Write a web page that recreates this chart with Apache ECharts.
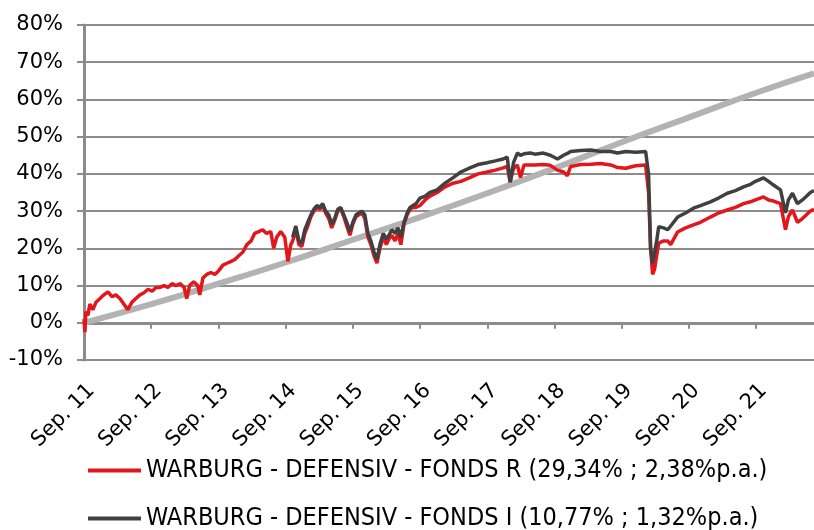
<!DOCTYPE html>
<html>
<head>
<meta charset="utf-8">
<script src="https://cdn.jsdelivr.net/npm/echarts@6/dist/echarts.min.js"></script>
<style>html,body{margin:0;padding:0;background:#fff}#c{width:814px;height:530px}</style>
</head>
<body>
<div id="c"></div>
<script>
const tickLabels = ['Sep. 11','Sep. 12','Sep. 13','Sep. 14','Sep. 15','Sep. 16','Sep. 17','Sep. 18','Sep. 19','Sep. 20','Sep. 21'];
const yTicks = [-10,0,10,20,30,40,50,60,70,80];
const seriesNames = ['WARBURG - DEFENSIV - FONDS R (29,34% ; 2,38%p.a.)','WARBURG - DEFENSIV - FONDS I (10,77% ; 1,32%p.a.)'];
const startDate = '2011-09-01';
const endDate = '2022-07-12';

const dates = ['2011-09-01','2011-09-06','2011-09-11','2011-09-22','2011-10-03','2011-10-19','2011-11-05','2011-11-27','2011-12-18','2012-01-09',
'2012-01-31','2012-02-21','2012-03-14','2012-04-05','2012-04-26','2012-05-18','2012-06-09','2012-07-01','2012-07-21','2012-08-14',
'2012-09-05','2012-09-26','2012-10-17','2012-11-09','2012-11-30','2012-12-22','2013-01-13','2013-02-05','2013-02-26','2013-03-12',
'2013-03-28','2013-04-19','2013-05-11','2013-05-22','2013-06-08','2013-06-29','2013-07-21','2013-08-12','2013-09-02','2013-09-25',
'2013-10-17','2013-11-08','2013-11-29','2013-12-20','2014-01-12','2014-02-02','2014-02-25','2014-03-16','2014-04-08','2014-04-29',
'2014-05-20','2014-06-12','2014-06-28','2014-07-14','2014-08-05','2014-08-27','2014-09-13','2014-09-29','2014-10-09','2014-10-26',
'2014-11-12','2014-11-28','2014-12-14','2014-12-30','2015-01-16','2015-02-01','2015-02-18','2015-03-06','2015-03-21','2015-04-06',
'2015-04-23','2015-05-09','2015-05-25','2015-06-11','2015-06-27','2015-07-14','2015-07-30','2015-08-16','2015-09-01','2015-09-18',
'2015-10-04','2015-10-20','2015-11-05','2015-11-22','2015-12-08','2015-12-25','2016-01-10','2016-01-26','2016-02-13','2016-03-01',
'2016-03-15','2016-03-31','2016-04-17','2016-05-03','2016-05-19','2016-06-05','2016-06-22','2016-07-08','2016-07-24','2016-08-09',
'2016-08-31','2016-09-28','2016-10-24','2016-12-02','2017-01-14','2017-02-27','2017-04-10','2017-05-29','2017-07-12','2017-08-30',
'2017-10-14','2017-11-26','2017-12-18','2018-01-03','2018-01-21','2018-02-11','2018-02-28','2018-03-19','2018-04-22','2018-05-18',
'2018-07-02','2018-08-09','2018-09-17','2018-10-20','2018-11-10','2018-11-27','2019-01-21','2019-03-16','2019-05-09','2019-07-03',
'2019-08-10','2019-09-23','2019-11-16','2020-01-09','2020-01-25','2020-02-05','2020-02-16','2020-02-27','2020-03-09','2020-03-20',
'2020-04-16','2020-05-08','2020-05-24','2020-07-01','2020-08-13','2020-09-25','2020-11-02','2020-12-26','2021-02-08','2021-03-28',
'2021-05-11','2021-06-24','2021-08-01','2021-08-28','2021-10-11','2021-11-07','2021-12-04','2022-01-11','2022-02-07','2022-02-23',
'2022-03-17','2022-04-13','2022-05-10','2022-06-01','2022-06-22','2022-07-12'];

const fondsR = [1.0,-2.5,3,2,5,3.5,5.5,6.5,7.5,8.3,
7,7.5,6.5,5,3.5,5.5,6.5,7.5,8,9,
8.5,9.5,9.5,10,9.5,10.5,10,10.5,9.5,6.5,
10,11,10,7.5,12,13,13.5,13,14,15.5,
16,16.5,17,18,19,21,22,24,24.5,25,
24,24.5,20,23,24.5,23,16.5,21,22,25,
21,20.5,24,26,28.5,30,31,30.5,31.5,29.5,
28,25.5,27.5,30,30.5,28.5,26,23.5,26.5,28.5,
29,29.5,28,23,21,18,16,20,23,21,
22.5,23.5,22,24,21,26.5,29,30.5,31,31,
31.5,33,34,35,36.5,37.5,38,39,40,40.5,
41,41.6,42,37.8,41.5,42.4,39,42.4,42.4,42.4,
42.5,42.3,41,40.5,39.5,42,42.5,42.6,42.8,42.4,
41.7,41.5,42.2,42.4,35,20,13,14.5,18,21.4,
22,22,21,24.4,25.5,26.3,27,28.4,29.5,30.3,
31,32,32.5,33,33.8,33,32.7,32,25,28.5,
30.3,27,28,29,30,30.5];

const fondsI = [null,null,null,null,null,null,null,null,null,null,
null,null,null,null,null,null,null,null,null,null,
null,null,null,null,null,null,null,null,null,null,
null,null,null,null,null,null,null,null,null,null,
null,null,null,null,null,null,null,null,null,null,
null,null,null,null,null,null,null,null,23,26,
22,21.5,25,27,29,30.5,31.5,31,32,30,
29,26.5,28,30.5,31,29,27,24.5,27,29,
29.5,30,29,24,22,19,17,21,24,22.5,
23.5,25,24,25.5,23,27,29.5,31,31.5,32,
33.5,34,35,35.7,37.5,39,40.5,41.6,42.5,43,
43.5,44,44.5,37.8,43,45.6,45,45.4,45.6,45.3,
45.6,45,44,45,45.5,46,46.3,46.4,46,46,
45.6,46,45.8,46,40,20,16,19,22,25.8,
25.5,25,26,28.4,29.5,30.8,31.5,32.5,33.5,34.8,
35.5,36.5,37.2,38,38.9,38,37,35.7,29.5,33,
34.8,32,33,34,35,35.5];

const benchDates = ['2011-09-01','2012-09-01','2013-09-01','2014-09-01','2015-09-01','2016-09-01','2017-09-01','2018-09-01','2019-09-01','2020-09-01','2021-09-01','2022-07-12'];
const benchmark = [0,5,10.5,16.2,22.3,28.4,34.8,41.5,48.5,55.2,61.8,67];

const YEAR_MS = 365.25*86400000;
const t0 = Date.parse(startDate);
const toYears = d => (Date.parse(d) - t0) / YEAR_MS;
const pairs = (ds, vs) => ds.map((d,i) => [toYears(d), vs[i]]);
const tickValues = tickLabels.map((_, i) => i);

const FONT = 'DejaVu Sans';
const LEGEND_FONT = 'DejaVu Sans Condensed';
const legendCommon = {
  orient: 'horizontal', left: 88, padding: 0, itemWidth: 53, itemHeight: 4, icon: 'rect',
  textStyle: {fontSize: 25, fontFamily: LEGEND_FONT, color: '#000'}
};
const chart = echarts.init(document.getElementById('c'));
chart.setOption({
  animation: false,
  backgroundColor: '#ffffff',
  grid: {left: 84, right: 0, top: 25, bottom: 170, outerBoundsMode: 'none'},
  xAxis: {
    type: 'value', min: 0, max: toYears(endDate), interval: 1,
    axisLine: {lineStyle: {color: '#8c8c8c', width: 3}},
    axisTick: {show: true, length: 6, lineStyle: {color: '#8c8c8c', width: 2}, customValues: tickValues},
    splitLine: {show: false},
    axisLabel: {
      customValues: tickValues,
      rotate: 45, margin: 20, verticalAlign: 'top', color: '#000', fontSize: 21, fontFamily: FONT,
      formatter: v => tickLabels[Math.round(v)] || ''
    }
  },
  yAxis: {
    type: 'value', min: yTicks[0], max: yTicks[yTicks.length-1], interval: 10,
    axisLine: {show: true, lineStyle: {color: '#8c8c8c', width: 3}},
    axisTick: {show: true, length: 7, lineStyle: {color: '#8c8c8c', width: 2}},
    splitLine: {lineStyle: {color: '#8c8c8c', width: 2}},
    axisLabel: {margin: 21, color: '#000', fontSize: 21, fontFamily: FONT, formatter: '{value}%'}
  },
  legend: [
    Object.assign({}, legendCommon, {top: 458, data: [seriesNames[0]]}),
    Object.assign({}, legendCommon, {top: 506, data: [seriesNames[1]]})
  ],
  series: [
    {name: 'Benchmark', type: 'line', data: pairs(benchDates, benchmark), smooth: true, showSymbol: false,
     lineStyle: {color: '#b3b3b3', width: 6}, itemStyle: {color: '#b3b3b3'}, z: 1},
    {name: seriesNames[0], type: 'line', data: pairs(dates, fondsR), showSymbol: false,
     lineStyle: {color: '#e3161b', width: 3.5}, itemStyle: {color: '#e3161b'}, z: 2},
    {name: seriesNames[1], type: 'line', data: pairs(dates, fondsI), showSymbol: false, connectNulls: false,
     lineStyle: {color: '#404040', width: 3.5}, itemStyle: {color: '#404040'}, z: 3}
  ]
});
</script>
</body>
</html>
